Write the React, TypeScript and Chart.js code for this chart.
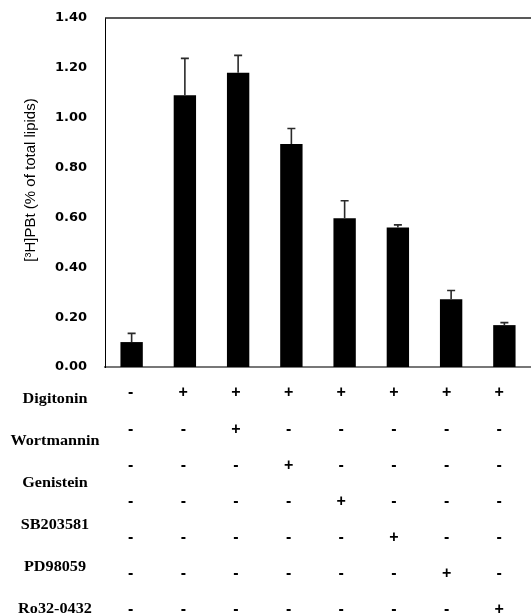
import React, { useEffect, useRef } from "react";
import { Chart, registerables } from "chart.js";

Chart.register(...registerables);

// ---- data ----
const conditions = ["C1", "C2", "C3", "C4", "C5", "C6", "C7", "C8"];
const means = [0.10, 1.09, 1.18, 0.895, 0.597, 0.56, 0.272, 0.168];
const errors = [0.035, 0.148, 0.07, 0.062, 0.07, 0.01, 0.035, 0.01];
const yTicks = [0, 0.2, 0.4, 0.6, 0.8, 1.0, 1.2, 1.4];
const yTitle = "[\u00B3H]PBt (% of total lipids)";
const rowLabels = ["Digitonin", "Wortmannin", "Genistein", "SB203581", "PD98059", "Ro32-0432"];
const signRows = [
  "-+++++++",
  "--+-----",
  "---+----",
  "----+---",
  "-----+--",
  "------+-",
  "-------+",
];

const extrasPlugin = {
  id: "extras",
  afterDatasetsDraw(chart: any) {
    const { ctx, chartArea, scales } = chart;
    const y = scales.y;
    const meta = chart.getDatasetMeta(0);
    // error bars
    ctx.save();
    ctx.strokeStyle = "#2a2a2a";
    ctx.lineWidth = 1.6;
    meta.data.forEach((bar: any, i: number) => {
      const top = y.getPixelForValue(means[i]);
      const et = y.getPixelForValue(means[i] + errors[i]);
      ctx.beginPath();
      ctx.moveTo(bar.x, top);
      ctx.lineTo(bar.x, et);
      ctx.moveTo(bar.x - 4, et);
      ctx.lineTo(bar.x + 4, et);
      ctx.stroke();
    });
    // top border
    ctx.strokeStyle = "#222";
    ctx.lineWidth = 1.5;
    ctx.beginPath();
    ctx.moveTo(chartArea.left, chartArea.top);
    ctx.lineTo(chartArea.right, chartArea.top);
    ctx.stroke();
    ctx.restore();
  },
  afterDraw(chart: any) {
    const { ctx, chartArea } = chart;
    const meta = chart.getDatasetMeta(0);
    ctx.save();
    // y title
    ctx.translate(31, 180);
    ctx.rotate(-Math.PI / 2);
    ctx.fillStyle = "#000";
    ctx.font = "15px 'Liberation Sans', Arial, sans-serif";
    ctx.textAlign = "center";
    ctx.textBaseline = "middle";
    ctx.fillText(yTitle, 0, 0);
    ctx.restore();

    // table signs
    ctx.save();
    ctx.fillStyle = "#000";
    ctx.font = "bold 16px 'Liberation Sans', Arial, sans-serif";
    ctx.textAlign = "center";
    ctx.textBaseline = "middle";
    const x0 = meta.data[0].x;
    signRows.forEach((row, r) => {
      const yy = chartArea.bottom + 26 + r * 36.1;
      row.split("").forEach((s, c) => {
        const bx = meta.data[c].x;
        const sx = x0 - 1 + (bx - x0) * 0.989;
        ctx.fillText(s, sx, yy);
      });
    });
    // row labels
    ctx.font = "bold 15px 'Liberation Serif', 'Times New Roman', serif";
    rowLabels.forEach((lab, r) => {
      const yy = chartArea.bottom + 32 + r * 42;
      ctx.save();
      ctx.translate(55, yy);
      ctx.scale(1.08, 1);
      ctx.fillText(lab, 0, 0);
      ctx.restore();
    });
    ctx.restore();
  },
};

export default function App() {
  const ref = useRef<HTMLCanvasElement>(null);
  useEffect(() => {
    document.body.style.margin = "0";
    document.body.style.overflow = "hidden";
    const chart = new Chart(ref.current as HTMLCanvasElement, {
      type: "bar",
      data: {
        labels: conditions,
        datasets: [
          {
            data: means,
            backgroundColor: "#000",
            borderWidth: 0,
            barPercentage: 0.42,
            categoryPercentage: 1,
          },
        ],
      },
      options: {
        animation: false,
        responsive: false,
        devicePixelRatio: 1,
        layout: { padding: { left: 0, right: 0, top: 18, bottom: 239 } },
        plugins: { legend: { display: false }, tooltip: { enabled: false } },
        scales: {
          x: {
            grid: { display: false },
            ticks: { display: false },
            border: { display: true, color: "#777", width: 2 },
          },
          y: {
            min: 0,
            max: 1.4,
            afterFit(scale: any) {
              scale.width = 105;
              scale.paddingTop = 0;
            },
            afterBuildTicks(scale: any) {
              scale.ticks = yTicks.map((v) => ({ value: v }));
            },
            grid: { display: false, drawTicks: false },
            border: { display: true, color: "#000", width: 1 },
            ticks: {
              padding: 18,
              color: "#000",
              font: { family: "'DejaVu Sans', sans-serif", size: 13, weight: "bold" },
              callback: (v: any) => Number(v).toFixed(2),
            },
          },
        },
      },
      plugins: [extrasPlugin],
    });
    return () => chart.destroy();
  }, []);
  return (
    <canvas
      ref={ref}
      width={531}
      height={614}
      style={{ display: "block", width: 531, height: 614 }}
    />
  );
}
